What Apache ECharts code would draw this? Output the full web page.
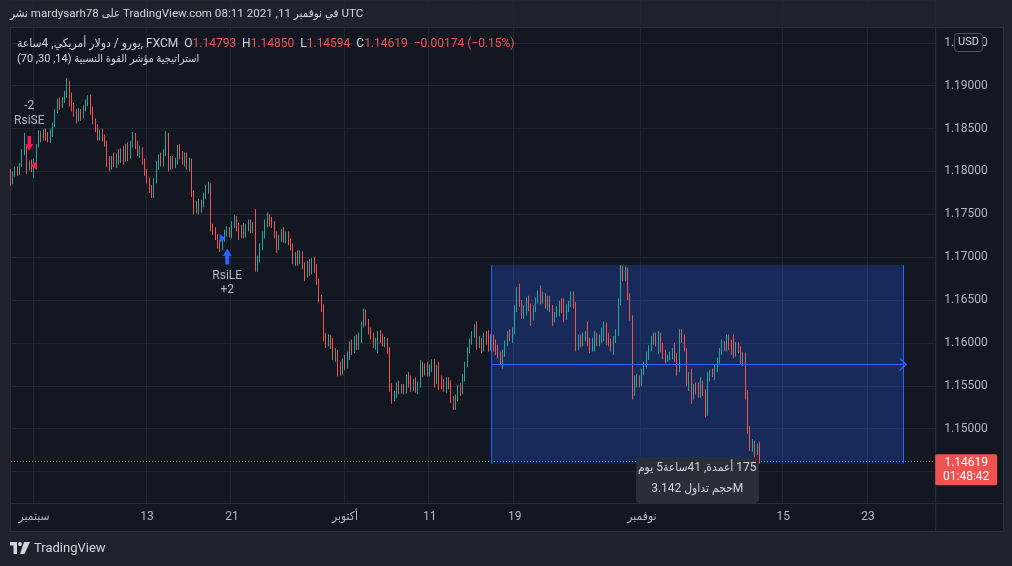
<!DOCTYPE html>
<html><head><meta charset="utf-8">
<script src="https://cdn.jsdelivr.net/npm/echarts@6.0.0/dist/echarts.min.js"></script>
<style>
html,body{margin:0;padding:0;}
body{background:#1e222d;width:1012px;height:566px;overflow:hidden;font-family:Roboto,"DejaVu Sans Condensed","DejaVu Sans",sans-serif;}
#wrap{position:relative;width:1012px;height:566px;}
#pane{position:absolute;left:10px;top:27px;width:992px;height:503px;background:#131722;border:1px solid #2a2e39;}
#chart{position:absolute;left:0;top:0;width:1012px;height:566px;}
.ov{position:absolute;white-space:nowrap;color:#d1d4dc;pointer-events:none;line-height:1;}
.r{color:#ef5350;}
#rangeBox{position:absolute;width:123px;height:46px;background:#2a2e39;border-radius:4px;color:#d1d4dc;font-size:12px;text-align:center;pointer-events:none;white-space:nowrap;}
#rangeBox div{height:21px;line-height:21px;}
</style></head>
<body>
<div id="wrap">
<div id="pane"></div>
<div id="chart"></div>
<div class="ov" id="hdr" style="left:10px;top:8px;font-size:11.6px;">نشر mardysarh78 على TradingView.com في نوفمبر 11, 2021 08:11 UTC</div>
<div class="ov" id="leg1" style="left:17px;top:37px;font-size:12px;">يورو / دولار أمريكي, 4ساعة, FXCM&nbsp;&nbsp;O<span class="r">1.14793</span>&nbsp;&nbsp;H<span class="r">1.14850</span>&nbsp;&nbsp;L<span class="r">1.14594</span>&nbsp;&nbsp;C<span class="r">1.14619</span>&nbsp;&nbsp;<span class="r">−0.00174 (−0.15%)</span></div>
<div class="ov" id="leg2" dir="rtl" style="left:17px;top:53px;font-size:11px;">استراتيجية مؤشر القوة النسبية (14, 30, 70)</div>
<div class="ov" id="foot" style="left:10px;top:541px;font-size:13px;display:flex;align-items:center;">
<svg width="20" height="12" viewBox="0 0 20 12" style="margin-right:4px"><path d="M0 0H7V12H3.5V3.5H0Z" fill="#d1d4dc"/><circle cx="10" cy="2" r="2" fill="#d1d4dc"/><path d="M14 0H20L14.5 12H10Z" fill="#d1d4dc"/></svg><span>TradingView</span></div>
<div id="rangeBox"><div dir="rtl">175 أعمدة, 41ساعة5 يوم</div><div dir="ltr">حجم تداول 3.142M</div></div>
</div>
<script>
// ---- data: 4h bars EUR/USD, [open, close, low, high] ----
const candles = [
[1.1800,1.1787,1.1783,1.1803],[1.1787,1.1797,1.1785,1.1800],[1.1797,1.1803,1.1794,1.1806],[1.1803,1.1798,1.1795,1.1806],
[1.1798,1.1807,1.1796,1.1810],[1.1807,1.1823,1.1805,1.1826],[1.1823,1.1828,1.1819,1.1845],[1.1828,1.1805,1.1797,1.1830],
[1.1805,1.1810,1.1801,1.1813],[1.1810,1.1804,1.1799,1.1814],[1.1804,1.1812,1.1792,1.1815],[1.1812,1.1830,1.1810,1.1832],
[1.1830,1.1842,1.1828,1.1848],[1.1842,1.1838,1.1834,1.1847],[1.1838,1.1846,1.1836,1.1849],[1.1846,1.1840,1.1836,1.1850],
[1.1840,1.1837,1.1834,1.1846],[1.1837,1.1846,1.1833,1.1850],[1.1846,1.1854,1.1840,1.1857],[1.1854,1.1870,1.1852,1.1873],
[1.1870,1.1882,1.1868,1.1885],[1.1882,1.1876,1.1872,1.1886],[1.1876,1.1884,1.1874,1.1887],[1.1884,1.1890,1.1880,1.1894],
[1.1890,1.1904,1.1886,1.1909],[1.1904,1.1885,1.1876,1.1906],[1.1885,1.1876,1.1870,1.1892],[1.1876,1.1868,1.1864,1.1880],
[1.1868,1.1862,1.1856,1.1873],[1.1862,1.1870,1.1858,1.1874],[1.1870,1.1864,1.1859,1.1873],[1.1864,1.1874,1.1862,1.1877],
[1.1874,1.1880,1.1870,1.1884],[1.1880,1.1886,1.1876,1.1889],[1.1886,1.1872,1.1866,1.1890],[1.1872,1.1858,1.1855,1.1876],
[1.1858,1.1851,1.1846,1.1862],[1.1851,1.1840,1.1836,1.1855],[1.1840,1.1846,1.1836,1.1849],[1.1846,1.1838,1.1835,1.1850],
[1.1838,1.1832,1.1829,1.1843],[1.1832,1.1812,1.1805,1.1836],[1.1812,1.1804,1.1800,1.1818],[1.1804,1.1815,1.1802,1.1818],
[1.1815,1.1808,1.1805,1.1822],[1.1808,1.1818,1.1804,1.1821],[1.1818,1.1812,1.1808,1.1826],[1.1812,1.1822,1.1810,1.1827],
[1.1822,1.1814,1.1808,1.1830],[1.1814,1.1827,1.1811,1.1832],[1.1827,1.1818,1.1812,1.1834],[1.1818,1.1832,1.1815,1.1836],
[1.1832,1.1842,1.1828,1.1846],[1.1842,1.1832,1.1826,1.1845],[1.1832,1.1822,1.1818,1.1836],[1.1822,1.1826,1.1816,1.1830],
[1.1826,1.1812,1.1808,1.1828],[1.1812,1.1800,1.1795,1.1815],[1.1800,1.1790,1.1786,1.1803],[1.1790,1.1780,1.1775,1.1793],
[1.1780,1.1771,1.1769,1.1784],[1.1771,1.1789,1.1769,1.1792],[1.1789,1.1808,1.1786,1.1812],[1.1808,1.1816,1.1802,1.1820],
[1.1816,1.1810,1.1806,1.1822],[1.1810,1.1822,1.1806,1.1826],[1.1822,1.1836,1.1818,1.1847],[1.1836,1.1806,1.1800,1.1845],
[1.1806,1.1814,1.1802,1.1818],[1.1814,1.1808,1.1803,1.1818],[1.1808,1.1812,1.1804,1.1816],[1.1812,1.1828,1.1808,1.1831],
[1.1828,1.1820,1.1814,1.1832],[1.1820,1.1812,1.1808,1.1824],[1.1812,1.1818,1.1806,1.1822],[1.1818,1.1806,1.1802,1.1822],
[1.1806,1.1812,1.1800,1.1816],[1.1812,1.1775,1.1770,1.1815],[1.1775,1.1756,1.1750,1.1778],[1.1756,1.1762,1.1751,1.1766],
[1.1762,1.1755,1.1750,1.1768],[1.1755,1.1763,1.1752,1.1767],[1.1763,1.1772,1.1758,1.1775],[1.1772,1.1780,1.1768,1.1784],
[1.1780,1.1784,1.1774,1.1788],[1.1784,1.1735,1.1730,1.1786],[1.1735,1.1730,1.1726,1.1739],[1.1730,1.1724,1.1720,1.1735],
[1.1724,1.1715,1.1710,1.1727],[1.1715,1.1710,1.1706,1.1720],[1.1710,1.1722,1.1708,1.1724],[1.1722,1.1728,1.1718,1.1732],
[1.1728,1.1732,1.1724,1.1736],[1.1732,1.1727,1.1723,1.1735],[1.1727,1.1738,1.1722,1.1742],[1.1738,1.1746,1.1734,1.1749],
[1.1746,1.1736,1.1730,1.1748],[1.1736,1.1728,1.1720,1.1740],[1.1728,1.1735,1.1722,1.1738],[1.1735,1.1726,1.1722,1.1740],
[1.1726,1.1735,1.1723,1.1739],[1.1735,1.1740,1.1730,1.1744],[1.1740,1.1732,1.1728,1.1744],[1.1732,1.1738,1.1728,1.1741],
[1.1738,1.1687,1.1683,1.1756],[1.1687,1.1698,1.1683,1.1702],[1.1698,1.1712,1.1694,1.1716],[1.1712,1.1726,1.1708,1.1730],
[1.1726,1.1740,1.1722,1.1744],[1.1740,1.1748,1.1735,1.1752],[1.1748,1.1740,1.1736,1.1750],[1.1740,1.1738,1.1734,1.1747],
[1.1738,1.1726,1.1722,1.1742],[1.1726,1.1712,1.1705,1.1730],[1.1712,1.1722,1.1708,1.1726],[1.1722,1.1730,1.1718,1.1733],
[1.1730,1.1722,1.1717,1.1735],[1.1722,1.1726,1.1716,1.1730],[1.1726,1.1718,1.1714,1.1730],[1.1718,1.1712,1.1708,1.1722],
[1.1712,1.1696,1.1692,1.1716],[1.1696,1.1702,1.1690,1.1706],[1.1702,1.1696,1.1690,1.1708],[1.1696,1.1704,1.1692,1.1708],
[1.1704,1.1690,1.1686,1.1707],[1.1690,1.1680,1.1672,1.1694],[1.1680,1.1692,1.1676,1.1696],[1.1692,1.1684,1.1678,1.1698],
[1.1684,1.1694,1.1680,1.1699],[1.1694,1.1688,1.1682,1.1700],[1.1688,1.1672,1.1668,1.1692],[1.1672,1.1652,1.1647,1.1675],
[1.1652,1.1640,1.1636,1.1656],[1.1640,1.1606,1.1602,1.1645],[1.1606,1.1600,1.1594,1.1612],[1.1600,1.1606,1.1596,1.1610],
[1.1606,1.1598,1.1593,1.1609],[1.1598,1.1585,1.1580,1.1606],[1.1585,1.1590,1.1578,1.1594],[1.1590,1.1572,1.1561,1.1592],
[1.1572,1.1566,1.1562,1.1578],[1.1566,1.1578,1.1563,1.1582],[1.1578,1.1574,1.1568,1.1586],[1.1574,1.1586,1.1570,1.1590],
[1.1586,1.1598,1.1580,1.1602],[1.1598,1.1592,1.1586,1.1604],[1.1592,1.1604,1.1588,1.1608],[1.1604,1.1596,1.1592,1.1610],
[1.1596,1.1608,1.1592,1.1612],[1.1608,1.1622,1.1600,1.1625],[1.1622,1.1636,1.1618,1.1640],[1.1636,1.1624,1.1620,1.1639],
[1.1624,1.1615,1.1610,1.1628],[1.1615,1.1608,1.1604,1.1618],[1.1608,1.1598,1.1594,1.1612],[1.1598,1.1603,1.1592,1.1606],
[1.1603,1.1612,1.1588,1.1614],[1.1612,1.1606,1.1600,1.1615],[1.1606,1.1600,1.1596,1.1611],[1.1600,1.1603,1.1595,1.1607],
[1.1603,1.1592,1.1587,1.1606],[1.1592,1.1548,1.1543,1.1595],[1.1548,1.1535,1.1529,1.1553],[1.1535,1.1540,1.1532,1.1544],
[1.1540,1.1550,1.1536,1.1554],[1.1550,1.1545,1.1540,1.1556],[1.1545,1.1548,1.1541,1.1552],[1.1548,1.1544,1.1540,1.1552],
[1.1544,1.1560,1.1541,1.1563],[1.1560,1.1556,1.1548,1.1566],[1.1556,1.1548,1.1543,1.1562],[1.1548,1.1555,1.1544,1.1558],
[1.1555,1.1547,1.1542,1.1560],[1.1547,1.1552,1.1540,1.1555],[1.1552,1.1572,1.1548,1.1580],[1.1572,1.1566,1.1560,1.1578],
[1.1566,1.1573,1.1562,1.1576],[1.1573,1.1565,1.1561,1.1578],[1.1565,1.1572,1.1561,1.1575],[1.1572,1.1578,1.1566,1.1581],
[1.1578,1.1558,1.1548,1.1581],[1.1558,1.1570,1.1552,1.1574],[1.1570,1.1560,1.1545,1.1578],[1.1560,1.1552,1.1546,1.1562],
[1.1552,1.1546,1.1543,1.1558],[1.1546,1.1556,1.1542,1.1560],[1.1556,1.1550,1.1546,1.1560],[1.1550,1.1534,1.1530,1.1556],
[1.1534,1.1526,1.1522,1.1538],[1.1526,1.1536,1.1522,1.1540],[1.1536,1.1548,1.1532,1.1551],[1.1548,1.1544,1.1538,1.1553],
[1.1544,1.1560,1.1540,1.1564],[1.1560,1.1575,1.1555,1.1578],[1.1575,1.1592,1.1572,1.1595],[1.1592,1.1602,1.1588,1.1605],
[1.1602,1.1610,1.1598,1.1614],[1.1610,1.1620,1.1606,1.1622],[1.1620,1.1598,1.1592,1.1625],[1.1598,1.1604,1.1594,1.1608],
[1.1604,1.1594,1.1588,1.1606],[1.1594,1.1608,1.1590,1.1612],[1.1608,1.1604,1.1598,1.1614],[1.1604,1.1596,1.1590,1.1615],
[1.1596,1.1606,1.1591,1.1610],[1.1606,1.1598,1.1590,1.1610],[1.1598,1.1592,1.1586,1.1604],[1.1592,1.1586,1.1582,1.1598],
[1.1586,1.1578,1.1574,1.1590],[1.1578,1.1588,1.1570,1.1592],[1.1588,1.1600,1.1584,1.1603],[1.1600,1.1612,1.1596,1.1614],
[1.1612,1.1606,1.1602,1.1616],[1.1606,1.1614,1.1600,1.1618],[1.1614,1.1640,1.1610,1.1644],[1.1640,1.1662,1.1636,1.1665],
[1.1662,1.1646,1.1642,1.1669],[1.1646,1.1632,1.1628,1.1650],[1.1632,1.1640,1.1628,1.1644],[1.1640,1.1650,1.1632,1.1653],
[1.1650,1.1642,1.1637,1.1655],[1.1642,1.1630,1.1620,1.1646],[1.1630,1.1640,1.1626,1.1644],[1.1640,1.1650,1.1636,1.1653],
[1.1650,1.1658,1.1646,1.1661],[1.1658,1.1650,1.1645,1.1667],[1.1650,1.1656,1.1646,1.1660],[1.1656,1.1646,1.1640,1.1658],
[1.1646,1.1652,1.1638,1.1655],[1.1652,1.1640,1.1636,1.1655],[1.1640,1.1628,1.1620,1.1644],[1.1628,1.1634,1.1624,1.1636],
[1.1634,1.1640,1.1630,1.1643],[1.1640,1.1646,1.1631,1.1649],[1.1646,1.1640,1.1635,1.1652],[1.1640,1.1630,1.1624,1.1652],
[1.1630,1.1640,1.1627,1.1645],[1.1640,1.1646,1.1636,1.1649],[1.1646,1.1656,1.1642,1.1660],[1.1656,1.1645,1.1640,1.1660],
[1.1645,1.1596,1.1590,1.1648],[1.1596,1.1605,1.1592,1.1610],[1.1605,1.1600,1.1595,1.1610],[1.1600,1.1608,1.1596,1.1612],
[1.1608,1.1612,1.1602,1.1614],[1.1612,1.1600,1.1596,1.1625],[1.1600,1.1594,1.1588,1.1606],[1.1594,1.1602,1.1590,1.1606],
[1.1602,1.1610,1.1590,1.1614],[1.1610,1.1600,1.1596,1.1612],[1.1600,1.1606,1.1596,1.1610],[1.1606,1.1614,1.1600,1.1618],
[1.1614,1.1620,1.1602,1.1625],[1.1620,1.1608,1.1598,1.1624],[1.1608,1.1600,1.1596,1.1612],[1.1600,1.1594,1.1590,1.1605],
[1.1594,1.1604,1.1586,1.1608],[1.1604,1.1612,1.1600,1.1616],[1.1612,1.1648,1.1608,1.1652],[1.1648,1.1685,1.1644,1.1691],
[1.1685,1.1676,1.1672,1.1690],[1.1676,1.1684,1.1672,1.1689],[1.1684,1.1654,1.1650,1.1688],[1.1654,1.1630,1.1626,1.1658],
[1.1630,1.1544,1.1534,1.1632],[1.1544,1.1552,1.1538,1.1562],[1.1552,1.1560,1.1548,1.1564],[1.1560,1.1554,1.1548,1.1562],
[1.1554,1.1566,1.1550,1.1570],[1.1566,1.1575,1.1562,1.1578],[1.1575,1.1585,1.1570,1.1590],[1.1585,1.1594,1.1580,1.1597],
[1.1594,1.1604,1.1590,1.1608],[1.1604,1.1610,1.1598,1.1612],[1.1610,1.1600,1.1596,1.1612],[1.1600,1.1608,1.1587,1.1614],
[1.1608,1.1596,1.1589,1.1612],[1.1596,1.1586,1.1581,1.1600],[1.1586,1.1580,1.1576,1.1592],[1.1580,1.1584,1.1578,1.1586],
[1.1584,1.1588,1.1580,1.1590],[1.1588,1.1592,1.1581,1.1594],[1.1592,1.1584,1.1578,1.1600],[1.1584,1.1568,1.1562,1.1588],
[1.1568,1.1610,1.1566,1.1616],[1.1610,1.1604,1.1600,1.1616],[1.1604,1.1592,1.1590,1.1610],[1.1592,1.1556,1.1550,1.1594],
[1.1556,1.1564,1.1544,1.1566],[1.1564,1.1538,1.1529,1.1570],[1.1538,1.1550,1.1534,1.1552],[1.1550,1.1545,1.1540,1.1554],
[1.1545,1.1540,1.1536,1.1554],[1.1540,1.1552,1.1536,1.1560],[1.1552,1.1544,1.1538,1.1556],[1.1544,1.1520,1.1513,1.1546],
[1.1520,1.1562,1.1515,1.1566],[1.1562,1.1566,1.1555,1.1568],[1.1566,1.1563,1.1560,1.1570],[1.1563,1.1572,1.1557,1.1575],
[1.1572,1.1580,1.1566,1.1583],[1.1580,1.1590,1.1576,1.1594],[1.1590,1.1600,1.1586,1.1604],[1.1600,1.1594,1.1590,1.1602],
[1.1594,1.1606,1.1590,1.1610],[1.1606,1.1598,1.1592,1.1610],[1.1598,1.1594,1.1586,1.1604],[1.1594,1.1586,1.1582,1.1610],
[1.1586,1.1598,1.1584,1.1601],[1.1598,1.1592,1.1588,1.1601],[1.1592,1.1578,1.1574,1.1596],[1.1578,1.1586,1.1573,1.1589],
[1.1586,1.1540,1.1534,1.1589],[1.1540,1.1500,1.1494,1.1545],[1.1500,1.1478,1.1474,1.1503],[1.1478,1.1484,1.1473,1.1488],
[1.1484,1.1474,1.1467,1.1486],[1.1474,1.1479,1.1469,1.1483],[1.14793,1.14619,1.14594,1.14850]
];
// time axis: first bar 2021-08-30 08:00 UTC, 4h bars, weekdays only; 393 slots incl. future space
const firstBarUTC = Date.UTC(2021, 7, 30, 8);
const slotCount = 393;
const tickDays = ['2021-09-01','2021-09-13','2021-09-21','2021-10-01','2021-10-11','2021-10-19','2021-11-01','2021-11-15','2021-11-23'];
const tickTexts = ['سبتمبر','13','21','أكتوبر','11','19','نوفمبر','15','23'];
const lastPrice = 1.14619;
const countdown = '01:48:42';
const rangeStartBar = 204, rangeEndBar = 379, rangeHigh = 1.1691, rangeLow = 1.14594;
const shortSig = {arrowBar: 8, arrowPrice: 1.18326, fillBar: 10, fillPrice: 1.1807, textPrice: 1.18674, text: '-2\nRsiSE'};
const longSig  = {arrowBar: 92, arrowPrice: 1.17007, fillBar: 90, fillPrice: 1.1722, textPrice: 1.16701, text: 'RsiLE\n+2'};

function pad(n){return (n<10?'0':'')+n;}
const categories = [];
for (let t = firstBarUTC; categories.length < slotCount; t += 4*3600*1000) {
  const d = new Date(t), wd = d.getUTCDay();
  if (wd === 0 || wd === 6) continue;
  categories.push(d.getUTCFullYear()+'-'+pad(d.getUTCMonth()+1)+'-'+pad(d.getUTCDate())+' '+pad(d.getUTCHours())+':00');
}
const tickMap = {};
tickDays.forEach((day,i)=>{ const idx = categories.indexOf(day+' 00:00'); if(idx>=0) tickMap[idx]=tickTexts[i]; });
const isTick = (i)=> tickMap.hasOwnProperty(i);

const up='#26a69a', down='#ef5350', blue='#2962ff', pinkRed='#f7194f', txt='#b2b5be', gridC='#232632';
const GL = 9.26, GR = 76.8;
const chart = echarts.init(document.getElementById('chart'), null, {renderer:'canvas'});
const arrowDown = 'path://M2.5,0L6.5,0L6.5,8L9,8L4.5,15L0,8L2.5,8Z';
const arrowUp = 'path://M4.5,0L9,7L6.5,7L6.5,15L2.5,15L2.5,7L0,7Z';
const chevron = 'path://M0,10L6,0L12,10L10.3,10L6,2.8L1.7,10Z';
const mid = (rangeHigh + rangeLow) / 2;
const rangeLine = {color: blue, width: 1, type: 'solid'};

chart.setOption({
  animation: false,
  backgroundColor: 'transparent',
  grid: [
    {left: GL, right: GR, top: -4.125, bottom: 566 - 514.425},
    {left: GL, right: GR, top: 503, height: 28}
  ],
  xAxis: [
    {type:'category', gridIndex:0, data: categories, boundaryGap: true,
     axisLine:{show:false}, axisTick:{show:false}, axisLabel:{show:false},
     splitLine:{show:true, interval:(i)=>isTick(i), lineStyle:{color:gridC, width:1}}},
    {type:'category', gridIndex:1, data: categories, boundaryGap: true, z: 60,
     axisLine:{show:false}, axisTick:{show:false}, splitLine:{show:false},
     axisLabel:{show:true, inside:true, margin:8, interval:(i)=>isTick(i), formatter:(v,i)=>tickMap[i]||'',
                color: txt, fontSize: 12, fontFamily: 'Roboto, "DejaVu Sans Condensed", "DejaVu Sans", sans-serif'}}
  ],
  yAxis: [
    {type:'value', gridIndex:0, position:'right', min:1.14, max:1.20, interval:0.005,
     axisLine:{show:false}, axisTick:{show:false},
     axisLabel:{color: txt, fontSize: 12, margin: 9, fontFamily:'Roboto, sans-serif',
       formatter:(v)=> (v < 1.1425 || v > 1.1975) ? '' : v.toFixed(5)},
     splitLine:{lineStyle:{color:gridC, width:1}}},
    {type:'value', gridIndex:1, show:false}
  ],
  series: [{
    type:'candlestick', xAxisIndex:0, yAxisIndex:0, data: candles,
    barWidth: 1,
    itemStyle:{color: up, color0: down, borderColor: up, borderColor0: down, borderWidth: 1},
    markArea:{silent:true, itemStyle:{color:'rgba(41,98,255,0.25)', borderWidth:0},
      data:[[{coord:[rangeStartBar, rangeHigh]},{coord:[rangeEndBar, rangeLow]}]]},
    markLine:{silent:true, symbol:['none','none'], animation:false,
      data:[
        [{coord:[rangeStartBar, rangeHigh], lineStyle:rangeLine, label:{show:false}}, {coord:[rangeStartBar, rangeLow]}],
        [{coord:[rangeEndBar, rangeHigh], lineStyle:rangeLine, label:{show:false}}, {coord:[rangeEndBar, rangeLow]}],
        [{coord:[rangeStartBar, mid], lineStyle:rangeLine, label:{show:false}, symbol:'none'},
         {coord:[rangeEndBar, mid], symbol: chevron, symbolSize:[14,7]}]
      ]},
    markPoint:{silent:true, animation:false,
      data:[
        {coord:[shortSig.arrowBar, shortSig.arrowPrice], symbol: arrowDown, symbolSize:[8,15], itemStyle:{color:pinkRed}, label:{show:false}},
        {coord:[shortSig.fillBar, shortSig.fillPrice], symbol:'triangle', symbolRotate:90, symbolSize:[9,6], itemStyle:{color:pinkRed}, label:{show:false}},
        {coord:[shortSig.arrowBar, shortSig.textPrice], symbol:'rect', symbolSize:1, itemStyle:{color:'rgba(0,0,0,0)'},
         label:{show:true, position:'inside', formatter: shortSig.text, color: txt, fontSize: 12, lineHeight: 15, fontFamily:'Roboto, sans-serif'}},
        {coord:[longSig.arrowBar, longSig.arrowPrice], symbol: arrowUp, symbolSize:[9,16], itemStyle:{color:blue}, label:{show:false}},
        {coord:[longSig.fillBar, longSig.fillPrice], symbol:'triangle', symbolRotate:-90, symbolSize:[9,6], itemStyle:{color:blue}, label:{show:false}},
        {coord:[longSig.arrowBar, longSig.textPrice], symbol:'rect', symbolSize:1, itemStyle:{color:'rgba(0,0,0,0)'},
         label:{show:true, position:'inside', formatter: longSig.text, color: txt, fontSize: 12, lineHeight: 14, fontFamily:'Roboto, sans-serif'}}
      ]}
  }]
});

// overlay pieces that depend on the library's scales
const pStart = chart.convertToPixel({xAxisIndex:0, yAxisIndex:0}, [rangeStartBar, rangeLow]);
const pEnd = chart.convertToPixel({xAxisIndex:0, yAxisIndex:0}, [rangeEndBar, rangeLow]);
const pLast = chart.convertToPixel({xAxisIndex:0, yAxisIndex:0}, [0, lastPrice]);
const priceAxisX = 1012 - GR;
const lastY = Math.round(pLast[1]) + 0.5;
const box = document.getElementById('rangeBox');
box.style.left = ((pStart[0] + pEnd[0]) / 2 - 61.5) + 'px';
box.style.top = (pStart[1] - 6) + 'px';

chart.setOption({
  graphic: [
    {type:'line', z:3, silent:true, shape:{x1:11, y1:lastY, x2:priceAxisX, y2:lastY}, style:{stroke:down, lineWidth:1, lineDash:[1,2]}},
    {type:'rect', z:50, silent:true, shape:{x:11, y:504, width: priceAxisX - 11, height: 26}, style:{fill:'#131722'}},
    {type:'line', z:55, silent:true, shape:{x1:10, y1:503.5, x2:1003, y2:503.5}, style:{stroke:'#2a2e39', lineWidth:1}},
    {type:'line', z:55, silent:true, shape:{x1:priceAxisX+0.5, y1:27, x2:priceAxisX+0.5, y2:531}, style:{stroke:'#2a2e39', lineWidth:1}},
    {type:'rect', z:56, silent:true, shape:{x:954.5, y:33.5, width:28, height:18, r:3}, style:{fill:'#131722', stroke:'#50535e', lineWidth:1}},
    {type:'text', z:57, silent:true, x:968.5, y:42.5, style:{text:'USD', fill:'#d1d4dc', font:'11px Roboto, sans-serif', align:'center', verticalAlign:'middle'}},
    {type:'rect', z:58, silent:true, shape:{x:priceAxisX, y:pLast[1]-7, width:62, height:31, r:2}, style:{fill:down}},
    {type:'text', z:59, silent:true, x:priceAxisX+31, y:pLast[1]+2, style:{text: lastPrice.toFixed(5), fill:'#ffffff', font:'12px Roboto, sans-serif', align:'center', verticalAlign:'middle'}},
    {type:'text', z:59, silent:true, x:priceAxisX+31, y:pLast[1]+16, style:{text: countdown, fill:'#ffffff', font:'12px Roboto, sans-serif', align:'center', verticalAlign:'middle'}}
  ]
});
</script>
</body></html>
